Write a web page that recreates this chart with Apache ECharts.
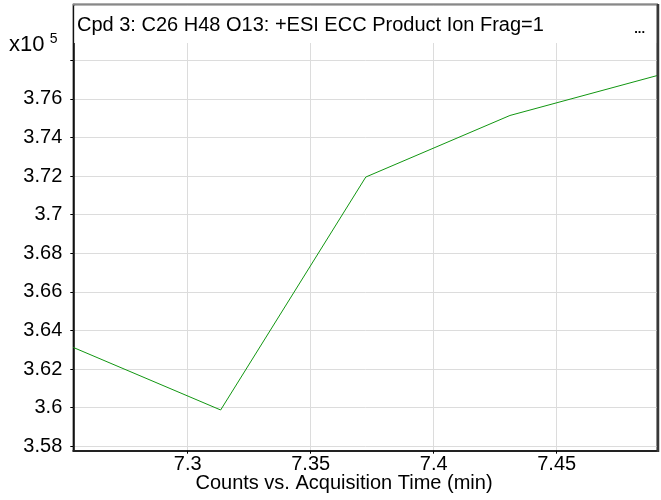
<!DOCTYPE html>
<html>
<head>
<meta charset="utf-8">
<script src="https://cdn.jsdelivr.net/npm/echarts@6/dist/echarts.min.js"></script>
<style>html,body{margin:0;padding:0;background:#fff;}#c{width:661px;height:500px;}</style>
</head>
<body>
<div id="c"></div>
<script>
// Data (counts in units of x10^5)
const times = [7.2535, 7.3134, 7.3724, 7.4310, 7.4909];
const counts = [3.6312, 3.5988, 3.7195, 3.7514, 3.7721];
const xTicks = [7.3, 7.35, 7.4, 7.45];
const yTicks = [3.58, 3.6, 3.62, 3.64, 3.66, 3.68, 3.7, 3.72, 3.74, 3.76, 3.78];
const yLabelled = [3.58, 3.6, 3.62, 3.64, 3.66, 3.68, 3.7, 3.72, 3.74, 3.76];
const chartTitle = 'Cpd 3: C26 H48 O13: +ESI ECC Product Ion Frag=1';
const xTitle = 'Counts vs. Acquisition Time (min)';

const FONT = '"Liberation Sans", Arial, sans-serif';
const FS = 20;
const chart = echarts.init(document.getElementById('c'), null, {renderer: 'canvas'});
const fmt = v => String(+v.toFixed(4));
chart.setOption({
  animation: false,
  backgroundColor: '#fff',
  grid: {left: 73.3, right: 3.7, top: 4.5, bottom: 49.3, show: true, borderColor: '#444', borderWidth: 1.5, containLabel: false},
  xAxis: {
    type: 'value', min: 7.2535, max: 7.4909,
    axisLine: {show: true, lineStyle: {color: '#222', width: 2}},
    axisTick: {show: true, length: 3, customValues: xTicks, lineStyle: {color: '#000'}},
    axisLabel: {customValues: xTicks, formatter: fmt, margin: 4, fontFamily: FONT, fontSize: FS, color: '#000'},
    splitLine: {show: true, lineStyle: {color: '#dcdcdc', width: 1}}
  },
  yAxis: {
    type: 'value', min: 3.5777, max: 3.8089,
    axisLine: {show: true, lineStyle: {color: '#000', width: 1.5}},
    axisTick: {show: true, length: 3, customValues: yTicks, lineStyle: {color: '#000'}},
    axisLabel: {customValues: yLabelled, formatter: fmt, margin: 11, fontFamily: FONT, fontSize: FS, color: '#000'},
    splitLine: {show: true, lineStyle: {color: '#dcdcdc', width: 1}}
  },
  graphic: [
    {type: 'rect', z: 100, shape: {x: 74.2, y: 5.5, width: 582, height: 37.5}, style: {fill: '#fff'}},
    {type: 'line', z: 101, shape: {x1: 73, y1: 4.5, x2: 658, y2: 4.5}, style: {stroke: '#888', lineWidth: 2}},
    {type: 'line', z: 101, shape: {x1: 658, y1: 4, x2: 658, y2: 452}, style: {stroke: '#383838', lineWidth: 2.5}},
    {type: 'text', z: 102, x: 77, y: 25, style: {text: chartTitle, fontFamily: FONT, fontSize: FS, fill: '#000', verticalAlign: 'middle'}},
    {type: 'text', z: 102, x: 645, y: 29, style: {text: '...', fontFamily: FONT, fontSize: 13, fontWeight: 'bold', fill: '#000', align: 'right', verticalAlign: 'middle'}},
    {type: 'text', z: 102, x: 344, y: 483, style: {text: xTitle, fontFamily: FONT, fontSize: FS, fill: '#000', align: 'center', verticalAlign: 'middle'}},
    {type: 'text', z: 102, x: 9, y: 45, style: {text: '{a|x10} {b|5}', verticalAlign: 'middle', rich: {
      a: {fontFamily: FONT, fontSize: 22, fill: '#000'},
      b: {fontFamily: FONT, fontSize: 14, fill: '#000', padding: [0, 0, 12, 2]}
    }}}
  ],
  series: [{
    type: 'line', data: times.map((t, i) => [t, counts[i]]),
    showSymbol: false, symbol: 'none',
    lineStyle: {color: '#119611', width: 1},
    clip: true
  }]
});
</script>
</body>
</html>
